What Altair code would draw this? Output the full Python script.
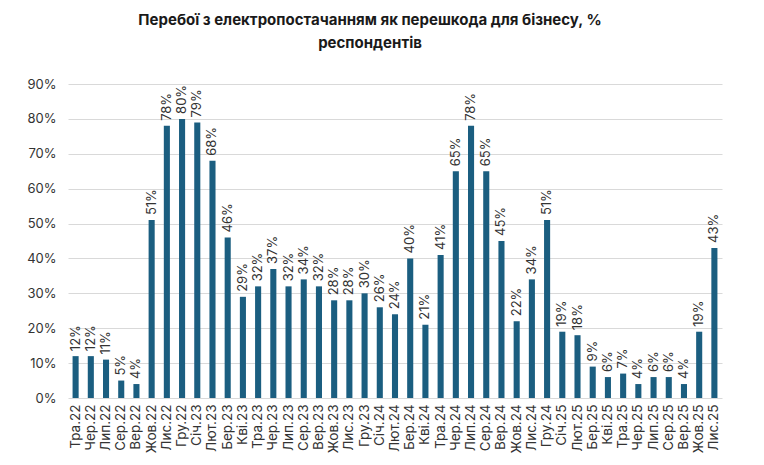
import altair as alt
import pandas as pd

months = ["Тра.22", "Чер.22", "Лип.22", "Сер.22", "Вер.22", "Жов.22", "Лис.22", "Гру.22",
          "Січ.23", "Лют.23", "Бер.23", "Кві.23", "Тра.23", "Чер.23", "Лип.23", "Сер.23",
          "Вер.23", "Жов.23", "Лис.23", "Гру.23", "Січ.24", "Лют.24", "Бер.24", "Кві.24",
          "Тра.24", "Чер.24", "Лип.24", "Сер.24", "Вер.24", "Жов.24", "Лис.24", "Гру.24",
          "Січ.25", "Лют.25", "Бер.25", "Кві.25", "Тра.25", "Чер.25", "Лип.25", "Сер.25",
          "Вер.25", "Жов.25", "Лис.25"]
values = [12, 12, 11, 5, 4, 51, 78, 80, 79, 68, 46, 29, 32, 37, 32, 34, 32, 28, 28, 30,
          26, 24, 40, 21, 41, 65, 78, 65, 45, 22, 34, 51, 19, 18, 9, 6, 7, 4, 6, 6, 4, 19, 43]
tick_values = [0.0, 0.1, 0.2, 0.3, 0.4, 0.5, 0.6, 0.7, 0.8, 0.9]

df = pd.DataFrame({"month": months, "value": [v / 100 for v in values]})

FONT = "Inter"
x = alt.X("month:N", sort=months, title=None,
          scale=alt.Scale(paddingInner=0.6, paddingOuter=0.3),
          axis=alt.Axis(labelAngle=270, labelFontSize=13.5, labelColor="#333333",
                        labelFont=FONT, ticks=False, domain=False, labelPadding=6))
y = alt.Y("value:Q", title=None,
          scale=alt.Scale(domain=[0, 0.9], nice=False),
          axis=alt.Axis(format=".0%", values=tick_values, labelOverlap=False,
                        labelFontSize=13, labelColor="#333333", labelFont=FONT,
                        ticks=False, domain=False, gridColor="#d9d9d9",
                        gridWidth=1.2, labelPadding=12))

base = alt.Chart(df).encode(x=x, y=y)
bars = base.mark_bar(color="#1b5e80")
labels = base.mark_text(angle=270, align="left", baseline="middle", dx=5,
                        fontSize=13, font=FONT, color="#333333").encode(
    text=alt.Text("value:Q", format=".0%"))

chart = (bars + labels).properties(
    width=654, height=314,
    title=alt.TitleParams(["Перебої з електропостачанням як перешкода для бізнесу, %",
                           "респондентів"],
                          font=FONT, fontSize=15, fontWeight="bold", color="#1a1a1a",
                          anchor="middle", dx=-25, offset=27, lineHeight=23),
    autosize="none",
    padding={"left": 60, "top": 76, "right": 34, "bottom": 60},
).configure_view(stroke=None)

chart.save("out.html", embed_options={"renderer": "svg", "actions": False})
